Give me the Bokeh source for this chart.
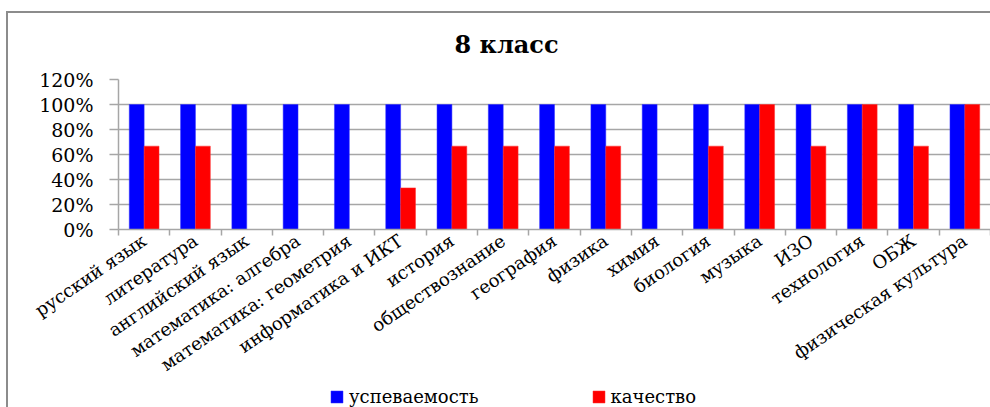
from bokeh.plotting import figure
from bokeh.layouts import column
from bokeh.models import (ColumnDataSource, Range1d, FixedTicker, LinearAxis,
                          Legend, LegendItem, Grid)
from bokeh.transform import dodge
from bokeh.embed import file_html
from bokeh.resources import INLINE

categories = ["русский язык", "литература", "английский язык", "математика: алгебра",
              "математика: геометрия", "информатика и ИКТ", "история", "обществознание",
              "география", "физика", "химия", "биология", "музыка", "ИЗО", "технология",
              "ОБЖ", "физическая культура"]
uspevaemost = [1.0] * 17
kachestvo = [0.667, 0.667, 0.0, 0.0, 0.0, 0.333, 0.667, 0.667, 0.667, 0.667, 0.0,
             0.667, 1.0, 0.667, 1.0, 0.667, 1.0]
series_names = ["успеваемость", "качество"]
y_ticks = [0, 0.2, 0.4, 0.6, 0.8, 1.0, 1.2]
y_tick_labels = ["0%", "20%", "40%", "60%", "80%", "100%", "120%"]
title_text = "8 класс"

n = len(categories)
centers = [i + 0.5 for i in range(n)]
bounds = list(range(n + 1))

src = ColumnDataSource(dict(x=centers, u=uspevaemost, k=kachestvo))

FONT = "DejaVu Serif"
GRID = "#a6a6a6"
EDGE = "#8c8c8c"
BLUE = "#0000ff"
RED = "#ff0000"
W = 0.29

MAIN_H = 386
LEG_H = 21

p = figure(width=990, height=MAIN_H, output_backend="svg", toolbar_location=None,
           x_range=Range1d(0, n), y_range=Range1d(0, 1.2),
           min_border_left=118, min_border_right=0, min_border_top=79,
           min_border_bottom=MAIN_H - 229, x_axis_type=None, y_axis_type=None)
p.border_fill_color = None
p.styles = {
    "background": ("linear-gradient(%s,%s) 6px 11px / 100%% 2px no-repeat, "
                   "linear-gradient(%s,%s) 6px 11px / 2px 100%% no-repeat, white")
                  % (EDGE, EDGE, EDGE, EDGE)
}
p.outline_line_color = None
p.background_fill_color = "white"

p.title.text = title_text
p.title.align = "left"
p.title.offset = 336
p.title.text_font = FONT
p.title.text_font_size = "24px"
p.title.text_font_style = "bold"
p.title.text_color = "black"
p.title.standoff = 41

r1 = p.vbar(x=dodge("x", -W / 2, range=p.x_range), top="u", width=W, source=src,
            fill_color=BLUE, line_color="#3030ff", line_width=0.5)
r2 = p.vbar(x=dodge("x", W / 2, range=p.x_range), top="k", width=W, source=src,
            fill_color=RED, line_color="#ff3030", line_width=0.5)

yaxis = LinearAxis(ticker=FixedTicker(ticks=y_ticks))
yaxis.major_label_overrides = {t: l for t, l in zip(y_ticks, y_tick_labels)}
yaxis.major_label_text_font = FONT
yaxis.major_label_text_font_size = "19px"
yaxis.major_label_text_color = "black"
yaxis.axis_line_color = GRID
yaxis.axis_line_width = 1.5
yaxis.major_tick_line_color = GRID
yaxis.major_tick_line_width = 1.5
yaxis.major_tick_out = 9
yaxis.major_tick_in = 0
yaxis.minor_tick_line_color = None
yaxis.major_label_standoff = 16
p.add_layout(yaxis, "left")

xaxis = LinearAxis(ticker=FixedTicker(ticks=centers, minor_ticks=bounds))
xaxis.major_label_overrides = {c: l for c, l in zip(centers, categories)}
xaxis.major_label_orientation = 0.6
xaxis.major_label_text_font = FONT
xaxis.major_label_text_font_size = "18px"
xaxis.major_label_text_color = "black"
xaxis.axis_line_color = GRID
xaxis.axis_line_width = 1.5
xaxis.major_tick_line_color = None
xaxis.major_tick_out = 6
xaxis.minor_tick_line_color = GRID
xaxis.minor_tick_line_width = 1.5
xaxis.minor_tick_out = 6
xaxis.minor_tick_in = 0
xaxis.major_label_standoff = 3
p.add_layout(xaxis, "below")

p.add_layout(Grid(dimension=1, ticker=yaxis.ticker, grid_line_color=GRID,
                  grid_line_width=1.5))

# legend strip below the chart (its bars fall outside its y range, only the key shows)
lg = figure(width=990, height=LEG_H, output_backend="svg", toolbar_location=None,
            x_range=Range1d(0, n), y_range=Range1d(10, 11),
            min_border_left=0, min_border_right=0, min_border_top=0,
            min_border_bottom=0, x_axis_type=None, y_axis_type=None)
lg.grid.visible = False
lg.outline_line_color = None
lg.border_fill_color = None
lg.background_fill_color = None
lg.styles = {"background": "linear-gradient(%s,%s) 6px 0 / 2px 100%% no-repeat, white"
             % (EDGE, EDGE)}
k1 = lg.vbar(x=dodge("x", -W / 2, range=lg.x_range), top="u", width=W, source=src,
             fill_color=BLUE, line_color="#3030ff", line_width=0.5)
k2 = lg.vbar(x=dodge("x", W / 2, range=lg.x_range), top="k", width=W, source=src,
             fill_color=RED, line_color="#ff3030", line_width=0.5)
legend = Legend(items=[LegendItem(label=series_names[0], renderers=[k1]),
                       LegendItem(label=series_names[1], renderers=[k2])],
                orientation="horizontal", location=(211, 0),
                glyph_width=15, glyph_height=15, label_standoff=5, spacing=112,
                label_text_font=FONT, label_text_font_size="18px",
                label_text_color="black", border_line_color=None,
                background_fill_alpha=0, padding=0, margin=0)
lg.add_layout(legend, "center")

layout = column(p, lg, spacing=0)
open("out.html", "w").write(file_html(layout, INLINE))
